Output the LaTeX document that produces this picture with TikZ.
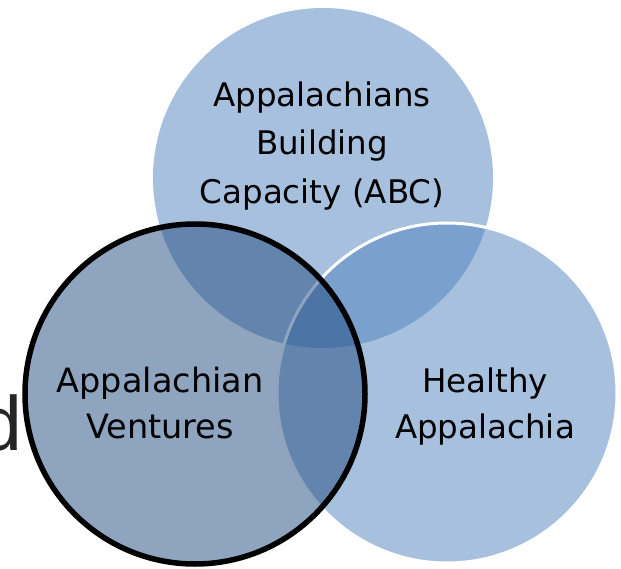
\documentclass[tikz,border=0pt]{standalone}
\usepackage{fontspec}
\setmainfont{DejaVu Sans}
\newfontfamily\dfont{Liberation Sans}
\definecolor{accentblue}{HTML}{4F81BD}
\definecolor{darkblue}{HTML}{1F497D}
\definecolor{dgray}{HTML}{262626}
\tikzset{
  vcircle/.style={circle, minimum size=340pt, inner sep=0pt, fill opacity=0.5, draw opacity=1},
  vlabel/.style={align=center, inner sep=0pt, text=black, font=\fontsize{32}{46}\selectfont}
}
\begin{document}
\begin{tikzpicture}[x=1pt,y=-1pt]
\clip (0,0) rectangle (621,569);
\node[text=dgray, anchor=base east, inner sep=0pt, font=\dfont\fontsize{77}{77}\selectfont] (dletter) at (23,450) {d};
\node[vcircle, fill=accentblue] (abc) at (323,178) {};
\node[vcircle, fill=accentblue, draw=white, line width=3pt] (health) at (447,393) {};
\node[vcircle, fill=darkblue, draw=black, line width=5.5pt] (ventures) at (195,394) {};
\node[vlabel, font=\fontsize{32.5}{48.5}\selectfont] (abctext) at (322,146) {Appalachians\\Building\\Capacity (ABC)};
\node[vlabel, font=\fontsize{32.5}{46}\selectfont] (healthtext) at (485,407) {Healthy\\Appalachia};
\node[vlabel, font=\fontsize{33.5}{46}\selectfont] (venturestext) at (160,403) {Appalachian\\Ventures};
\end{tikzpicture}
\end{document}
